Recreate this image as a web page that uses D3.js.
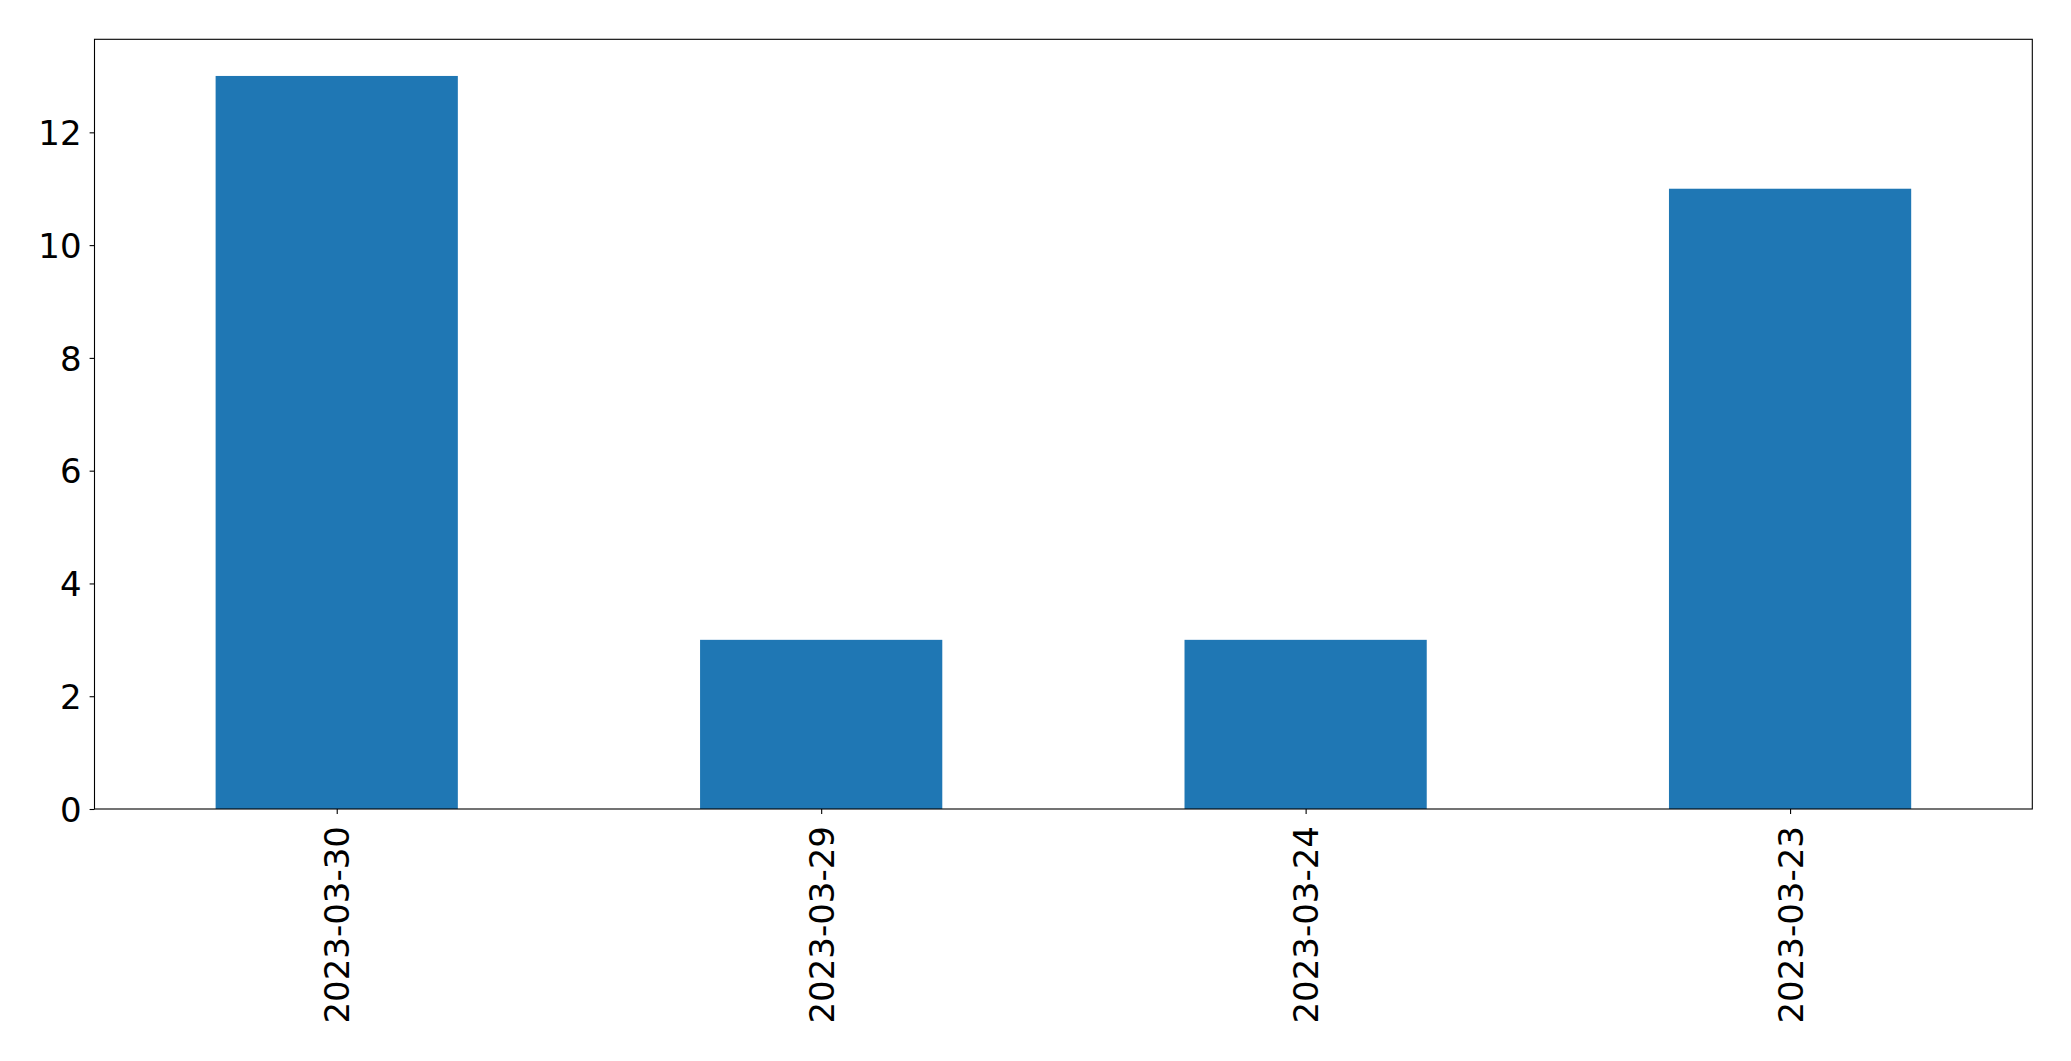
<!DOCTYPE html>
<html>
<head>
<meta charset="utf-8">
<script src="https://cdn.jsdelivr.net/npm/d3@7"></script>
<style>
  html, body { margin: 0; padding: 0; background: #fff; }
  svg { display: block; }
  text { font-family: "DejaVu Sans", sans-serif; fill: #000; }
</style>
</head>
<body>
<script>
const categories = ["2023-03-30", "2023-03-29", "2023-03-24", "2023-03-23"];
const values = [13, 3, 3, 11];
const yTicks = [0, 2, 4, 6, 8, 10, 12];

(function () {
const W = 2071, H = 1061;
const mLeft = 94.5, mRight = 2032.3, mTop = 39.3, mBottom = 809;
const fontSize = 34;

const svg = d3.select("body").append("svg").attr("width", W).attr("height", H);

const x = d3.scaleLinear().domain([-0.5, categories.length - 0.5]).range([mLeft, mRight]);
const y = d3.scaleLinear().domain([0, 13.65]).range([mBottom, mTop]);
const barW = x(0.25) - x(-0.25);

svg.append("g").selectAll("rect").data(values).join("rect")
  .attr("x", (d, i) => x(i) - barW / 2)
  .attr("y", d => y(d))
  .attr("width", barW)
  .attr("height", d => y(0) - y(d))
  .attr("fill", "#1f77b4");

// y axis
const yAxis = d3.axisLeft(y).tickValues(yTicks).tickSize(4.9).tickPadding(8).tickFormat(d3.format("d"));
const gy = svg.append("g").attr("transform", `translate(${mLeft},0)`).call(yAxis);
gy.select(".domain").remove();
gy.selectAll("line").attr("stroke", "#000").attr("stroke-width", 1.1);
gy.selectAll("text").attr("font-size", fontSize).attr("font-family", "DejaVu Sans").attr("dy", "0.36em");

// x axis
const xAxis = d3.axisBottom(x).tickValues(d3.range(categories.length)).tickSize(4.9).tickFormat(i => categories[i]);
const gx = svg.append("g").attr("transform", `translate(0,${mBottom})`).call(xAxis);
gx.select(".domain").remove();
gx.selectAll("line").attr("stroke", "#000").attr("stroke-width", 1.1);
gx.selectAll("text")
  .attr("font-size", fontSize).attr("font-family", "DejaVu Sans")
  .attr("text-anchor", "end")
  .attr("transform", "rotate(-90)")
  .attr("x", -17).attr("y", 0).attr("dy", "0.36em");

// frame
svg.append("rect").attr("x", mLeft).attr("y", mTop).attr("width", mRight - mLeft).attr("height", mBottom - mTop)
  .attr("fill", "none").attr("stroke", "#000").attr("stroke-width", 1.1);
})();
</script>
</body>
</html>
